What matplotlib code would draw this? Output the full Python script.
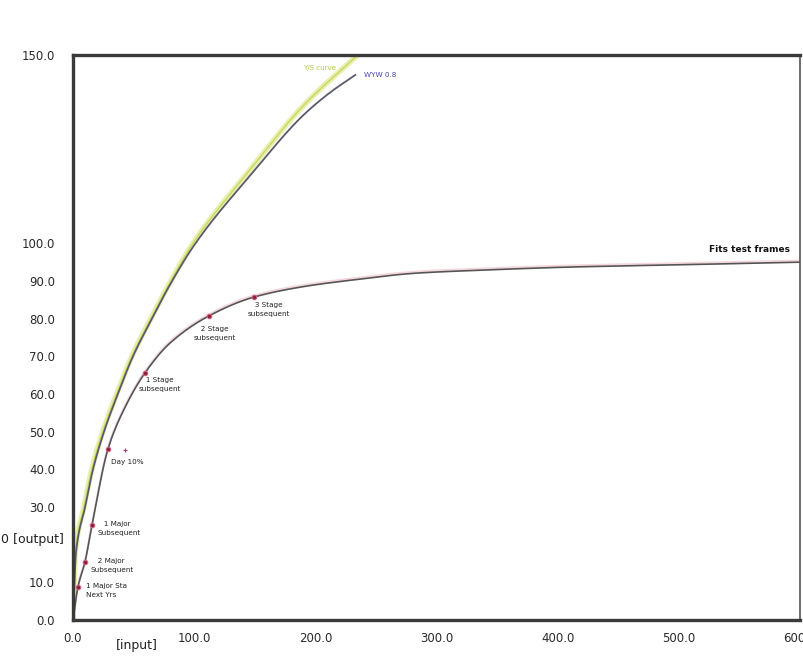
import numpy as np
import matplotlib
matplotlib.use("Agg")
import matplotlib.pyplot as plt

plt.rcParams['font.family'] = ['DejaVu Sans']

# Upper response curves (two nearly coincident series)
upper_x = [0, 2.5, 10, 16.5, 25.6, 37, 49.5, 63.5, 80, 100, 148, 190, 212, 233]
upper_y = [0, 18, 30, 40, 50, 60, 70, 79, 89, 99.5, 118.7, 134.0, 140.0, 144.7]
green_x = [0, 2.0, 9.0, 15.5, 24.5, 36, 48.5, 62.5, 79, 99, 146, 190, 235]
green_y = [0, 18, 30, 40, 50, 60, 70, 79, 89, 100, 119.5, 136.5, 150]

# Saturating lower curve
lower_x = [0, 4.1, 9.9, 15.7, 28.9, 43, 59.4, 80, 112, 149, 190, 229, 284, 339, 410, 500, 600]
lower_y = [0, 8.8, 15.4, 25.2, 45.4, 56.5, 65.6, 73.5, 80.7, 85.7, 88.5, 90.2, 92.1, 92.9, 93.7, 94.3, 95.0]

# Marked stages on the lower curve
stage_x = [4.1, 9.9, 15.7, 28.9, 59.4, 112, 149]
stage_y = [8.8, 15.4, 25.2, 45.4, 65.6, 80.7, 85.7]
stage_labels = ["1 Major Sta\nNext Yrs", "   2 Major\nSubsequent", "   1 Major\nSubsequent",
                "Day 10%", "   1 Stage\nsubsequent", "   2 Stage\nsubsequent", "   3 Stage\nsubsequent"]
stage_offsets = [(8, 4), (6, 4), (5, 4), (3, -10), (-6, -4), (-15, -10), (-6, -5)]

x_ticks = [0, 100, 200, 300, 400, 500, 600]
y_ticks = [0, 10, 20, 30, 40, 50, 60, 70, 80, 90, 100, 150]
y_tick_labels = ["0.0", "10.0", "", "30.0", "40.0", "50.0", "60.0",
                 "70.0", "80.0", "90.0", "100.0", "150.0"]


def smooth(xs, ys, n=400):
    """Monotone cubic (Fritsch-Carlson) interpolation through the points."""
    x = np.asarray(xs, float)
    y = np.asarray(ys, float)
    h = np.diff(x)
    d = np.diff(y) / h
    m = np.zeros_like(x)
    m[0], m[-1] = d[0], d[-1]
    for i in range(1, len(x) - 1):
        if d[i - 1] * d[i] <= 0:
            m[i] = 0
        else:
            w1 = 2 * h[i] + h[i - 1]
            w2 = h[i] + 2 * h[i - 1]
            m[i] = (w1 + w2) / (w1 / d[i - 1] + w2 / d[i])
    xx = np.linspace(x[0], x[-1], n)
    idx = np.clip(np.searchsorted(x, xx) - 1, 0, len(x) - 2)
    t = (xx - x[idx]) / h[idx]
    h00 = 2 * t**3 - 3 * t**2 + 1
    h10 = t**3 - 2 * t**2 + t
    h01 = -2 * t**3 + 3 * t**2
    h11 = t**3 - t**2
    yy = h00 * y[idx] + h10 * h[idx] * m[idx] + h01 * y[idx + 1] + h11 * h[idx] * m[idx + 1]
    return xx, yy


fig = plt.figure(figsize=(8.04, 6.57), dpi=100)
ax = fig.add_axes([73 / 804, 1 - 620 / 657, 727 / 804, 565 / 657])

gx, gy = smooth(green_x, green_y)
ax.plot(gx, gy, color='#e4ec9a', lw=4.0, alpha=0.8, solid_capstyle='round')
ax.plot(gx, gy, color='#c8d860', lw=1.0)
ux, uy = smooth(upper_x, upper_y)
ax.plot(ux, uy, color='#5a5a6e', lw=1.3)

lx, ly = smooth(lower_x, lower_y)
ax.plot(lx, ly + 0.4, color='#f2c8d0', lw=1.6, alpha=0.7)
ax.plot(lx, ly, color='#555555', lw=1.2)

ax.plot(stage_x, stage_y, linestyle='none', marker='o', ms=3.2,
        color='#8a2035', markeredgecolor='#d06080', markeredgewidth=0.8)
ax.plot([43], [45.1], linestyle='none', marker='+', ms=3.5, color='#b04060', mew=0.8)

for sx, sy, lab, (dx, dy) in zip(stage_x, stage_y, stage_labels, stage_offsets):
    ax.annotate(lab, (sx, sy), xytext=(dx, dy), textcoords='offset pixels',
                ha='left', va='top', fontsize=5.2, color='#222222', linespacing=1.6)

ax.text(320 / 804, 1 - 68 / 657, "Y/S curve", transform=fig.transFigure,
        ha='center', va='center', fontsize=5, color='#b8c850')
ax.text(380 / 804, 1 - 75 / 657, "WYW 0.8", transform=fig.transFigure,
        ha='center', va='center', fontsize=5.2, color='#4848a8')
ax.text(790 / 804, 1 - 249 / 657, "Fits test frames", transform=fig.transFigure,
        ha='right', va='center', fontsize=6.5, fontweight='bold', color='#111111')
fig.text(1 / 804, 1 - 540 / 657, "0 [output]", ha='left', va='center',
         fontsize=9, color='#222222')
fig.text(137 / 804, 1 - 646 / 657, "[input]", ha='center', va='center',
         fontsize=9, color='#222222')

ax.set_xlim(0, 600)
ax.set_ylim(0, 150)
ax.set_xticks(x_ticks)
ax.set_xticklabels([f"{v:.1f}" for v in x_ticks])
ax.set_yticks(y_ticks)
ax.set_yticklabels(y_tick_labels)
ax.tick_params(length=0, labelsize=8.5, labelcolor='#2a2a2a')
ax.tick_params(axis='y', pad=13)
ax.tick_params(axis='x', pad=9)

for side in ['left', 'top', 'bottom']:
    ax.spines[side].set_linewidth(2.4)
    ax.spines[side].set_color('#3a3a3a')
ax.spines['right'].set_linewidth(1.2)
ax.spines['right'].set_color('#555555')

fig.savefig("out.png", dpi=100)
